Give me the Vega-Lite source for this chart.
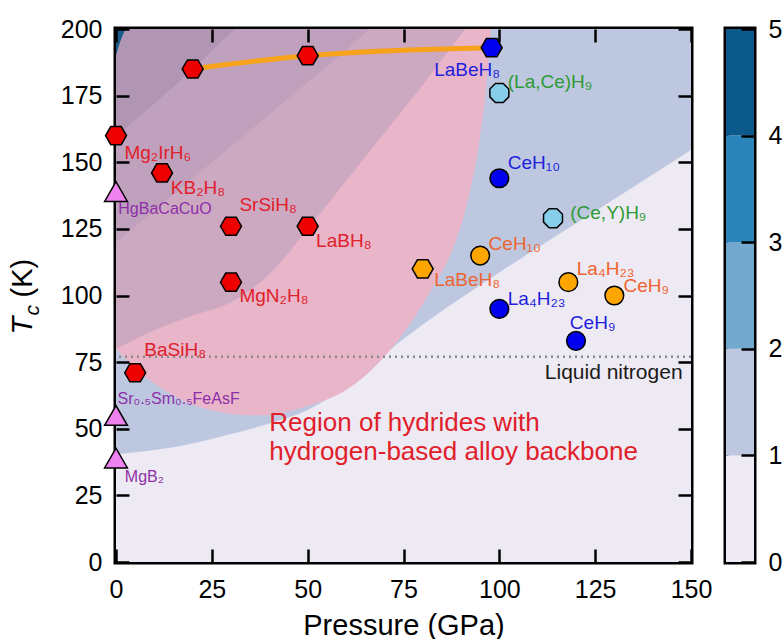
{
  "$schema": "https://vega.github.io/schema/vega-lite/v6.json",
  "padding": {"left": 5, "top": 14, "right": 0, "bottom": 0},
  "background": "white",
  "config": {
    "font": "Liberation Sans",
    "view": {"stroke": "black", "strokeWidth": 5, "fill": "#EEEAF3"},
    "axis": {
      "labelFont": "Liberation Sans", "labelFontSize": 25, "labelColor": "black",
      "titleFont": "Liberation Sans", "titleFontSize": 29, "titleFontWeight": "normal", "titleColor": "black",
      "ticks": true, "tickSize": 13, "tickWidth": 2.5, "tickColor": "black", "tickOpacity": 1,
      "domain": false, "grid": false,
      "labelPadding": 14, "labelFlush": false, "labelOverlap": false
    }
  },
  "datasets": {
    "bg": [
      {"b": "base", "P": 0, "T": 0}, {"b": "base", "P": 150, "T": 0},
      {"b": "blue", "P": 0, "T": 40.5}, {"b": "blue", "P": 10, "T": 42}, {"b": "blue", "P": 20, "T": 44.5}, {"b": "blue", "P": 30, "T": 48}, {"b": "blue", "P": 40, "T": 52}, {"b": "blue", "P": 50, "T": 57}, {"b": "blue", "P": 60, "T": 66}, {"b": "blue", "P": 70, "T": 78}, {"b": "blue", "P": 80, "T": 89}, {"b": "blue", "P": 100, "T": 108.6}, {"b": "blue", "P": 125, "T": 131.6}, {"b": "blue", "P": 150, "T": 154.6},
      {"b": "pink", "P": 0, "T": 80}, {"b": "pink", "P": 5, "T": 72.5}, {"b": "pink", "P": 10, "T": 67}, {"b": "pink", "P": 15, "T": 62.5}, {"b": "pink", "P": 20, "T": 59}, {"b": "pink", "P": 25, "T": 57}, {"b": "pink", "P": 30, "T": 55.5}, {"b": "pink", "P": 35, "T": 55}, {"b": "pink", "P": 40, "T": 55.3}, {"b": "pink", "P": 50, "T": 58.5}, {"b": "pink", "P": 60, "T": 64.5}, {"b": "pink", "P": 70, "T": 77}, {"b": "pink", "P": 77, "T": 90}, {"b": "pink", "P": 83, "T": 104}, {"b": "pink", "P": 88, "T": 118}, {"b": "pink", "P": 92, "T": 137}, {"b": "pink", "P": 95, "T": 160}, {"b": "pink", "P": 97, "T": 185}, {"b": "pink", "P": 97.8, "T": 200},
      {"b": "m1", "P": 0, "T": 80}, {"b": "m1", "P": 10, "T": 87}, {"b": "m1", "P": 20, "T": 92.5}, {"b": "m1", "P": 30, "T": 97.5}, {"b": "m1", "P": 40, "T": 108}, {"b": "m1", "P": 50, "T": 125}, {"b": "m1", "P": 60, "T": 143}, {"b": "m1", "P": 70, "T": 161}, {"b": "m1", "P": 80, "T": 179}, {"b": "m1", "P": 91, "T": 200},
      {"b": "m2", "P": 0, "T": 120}, {"b": "m2", "P": 10, "T": 132}, {"b": "m2", "P": 20, "T": 144}, {"b": "m2", "P": 30, "T": 156}, {"b": "m2", "P": 40, "T": 168}, {"b": "m2", "P": 50, "T": 180}, {"b": "m2", "P": 60, "T": 192}, {"b": "m2", "P": 66, "T": 200},
      {"b": "m3", "P": 0, "T": 160}, {"b": "m3", "P": 10, "T": 172}, {"b": "m3", "P": 20, "T": 185}, {"b": "m3", "P": 28, "T": 196}, {"b": "m3", "P": 31, "T": 200},
      {"b": "corner", "P": 0, "T": 190}, {"b": "corner", "P": 0.8, "T": 194}, {"b": "corner", "P": 1.7, "T": 197.5}, {"b": "corner", "P": 2.6, "T": 200}
    ],
    "pts": [
      {"m": "hex", "s": "red", "P": 0, "T": 160}, {"m": "hex", "s": "red", "P": 12, "T": 146}, {"m": "hex", "s": "red", "P": 30, "T": 126}, {"m": "hex", "s": "red", "P": 50, "T": 126}, {"m": "hex", "s": "red", "P": 30, "T": 105}, {"m": "hex", "s": "red", "P": 5, "T": 71}, {"m": "hex", "s": "red", "P": 20, "T": 185}, {"m": "hex", "s": "red", "P": 50, "T": 190},
      {"m": "hex", "s": "blue", "P": 98, "T": 193}, {"m": "hex", "s": "orange", "P": 80, "T": 110},
      {"m": "circle", "s": "blue", "P": 100, "T": 144}, {"m": "circle", "s": "blue", "P": 100, "T": 95}, {"m": "circle", "s": "blue", "P": 120, "T": 83},
      {"m": "circle", "s": "orange", "P": 95, "T": 115}, {"m": "circle", "s": "orange", "P": 118, "T": 105}, {"m": "circle", "s": "orange", "P": 130, "T": 100},
      {"m": "oct", "s": "lightblue", "P": 100, "T": 176}, {"m": "oct", "s": "lightblue", "P": 114, "T": 129},
      {"m": "tri", "s": "violet", "P": 0, "T": 139}, {"m": "tri", "s": "violet", "P": 0, "T": 55}, {"m": "tri", "s": "violet", "P": 0, "T": 39}
    ],
    "line": [{"P": 20, "T": 185}, {"P": 50, "T": 190}, {"P": 98, "T": 193}],
    "labels": [
      {"text": "Mg₂IrH₆", "P": 2.2, "T": 151.3, "g": "red"},
      {"text": "KB₂H₈", "P": 14.3, "T": 138.2, "g": "red"},
      {"text": "SrSiH₈", "P": 32.2, "T": 131.6, "g": "red"},
      {"text": "LaBH₈", "P": 52.2, "T": 118.2, "g": "red"},
      {"text": "MgN₂H₈", "P": 32.2, "T": 97.6, "g": "red"},
      {"text": "BaSiH₈", "P": 7.4, "T": 77.3, "g": "red"},
      {"text": "HgBaCaCuO", "P": 0.6, "T": 130.7, "g": "purple"},
      {"text": "Sr₀.₅Sm₀.₅FeAsF", "P": 0.4, "T": 59.4, "g": "purple"},
      {"text": "MgB₂", "P": 2.3, "T": 30, "g": "purple"},
      {"text": "LaBeH₈", "P": 83, "T": 182.4, "g": "blue"},
      {"text": "CeH₁₀", "P": 102.2, "T": 147.6, "g": "blue"},
      {"text": "La₄H₂₃", "P": 102.2, "T": 96.5, "g": "blue"},
      {"text": "CeH₉", "P": 118.4, "T": 87.3, "g": "blue"},
      {"text": "(La,Ce)H₉", "P": 102.2, "T": 177.9, "g": "green"},
      {"text": "(Ce,Y)H₉", "P": 118.5, "T": 128.8, "g": "green"},
      {"text": "CeH₁₀", "P": 97.2, "T": 117, "g": "orange"},
      {"text": "LaBeH₈", "P": 83, "T": 103.6, "g": "orange"},
      {"text": "La₄H₂₃", "P": 120.2, "T": 107.8, "g": "orange"},
      {"text": "CeH₉", "P": 132.4, "T": 101.3, "g": "orange"}
    ],
    "cbar": [
      {"band": "a", "lo": 0, "hi": 1}, {"band": "b", "lo": 1, "hi": 2}, {"band": "c", "lo": 2, "hi": 3}, {"band": "d", "lo": 3, "hi": 4}, {"band": "e", "lo": 4, "hi": 5}
    ]
  },
  "resolve": {"scale": {"color": "independent", "fill": "independent"}},
  "spacing": 8,
  "hconcat": [
    {
      "width": 575,
      "height": 533,
      "resolve": {"axis": {"x": "independent", "y": "independent"}},
      "layer": [
        {
          "data": {"name": "bg"},
          "transform": [{"filter": "datum.b === 'base'"}],
          "mark": {"type": "area", "orient": "vertical", "color": "#EEEAF3"},
          "encoding": {
            "x": {"field": "P", "type": "quantitative", "scale": {"domain": [0, 150], "nice": false, "zero": false},
                  "axis": {"orient": "bottom", "zindex": 1, "offset": -13, "ticks": true, "tickSize": 13, "domain": false, "values": [0, 25, 50, 75, 100, 125, 150], "title": "Pressure (GPa)", "labelPadding": 15, "titlePadding": 9}},
            "y": {"field": "T", "type": "quantitative", "scale": {"domain": [0, 200], "nice": false, "zero": false},
                  "axis": {"orient": "left", "zindex": 1, "offset": -13, "ticks": true, "tickSize": 13, "domain": false, "values": [0, 25, 50, 75, 100, 125, 150, 175, 200], "labelPadding": 14, "title": "(K)", "titleAngle": 270, "titleAlign": "left", "titleBaseline": "alphabetic", "titleX": -98, "titleY": 268}},
            "y2": {"datum": 200}
          }
        },
        {
          "data": {"name": "bg"},
          "transform": [{"filter": "datum.b === 'blue'"}],
          "mark": {"type": "area", "orient": "vertical", "interpolate": "monotone", "color": "#BDC8E0"},
          "encoding": {
            "x": {"field": "P", "type": "quantitative", "scale": {"domain": [0, 150], "nice": false, "zero": false},
                  "axis": {"orient": "top", "zindex": 1, "offset": -13, "ticks": true, "tickSize": 13, "domain": false, "values": [0, 25, 50, 75, 100, 125, 150], "labels": false, "title": "T", "titleFontStyle": "italic", "titleAngle": 270, "titleAlign": "left", "titleBaseline": "alphabetic", "titleX": -85, "titleY": 292}},
            "y": {"field": "T", "type": "quantitative", "scale": {"domain": [0, 200], "nice": false, "zero": false},
                  "axis": {"orient": "right", "zindex": 1, "offset": -13, "ticks": true, "tickSize": 13, "domain": false, "values": [0, 25, 50, 75, 100, 125, 150, 175, 200], "labels": false, "title": "c", "titleFontStyle": "italic", "titleFontSize": 21, "titleAngle": 270, "titleAlign": "left", "titleBaseline": "alphabetic", "titleX": -640, "titleY": 286}},
            "y2": {"datum": 200}
          }
        },
        {
          "data": {"name": "bg"},
          "transform": [{"filter": "datum.b === 'pink'"}],
          "mark": {"type": "area", "orient": "vertical", "interpolate": "monotone", "color": "#E8B5C9"},
          "encoding": {
            "x": {"field": "P", "type": "quantitative", "axis": null},
            "y": {"field": "T", "type": "quantitative", "axis": null},
            "y2": {"datum": 200}
          }
        },
        {
          "data": {"name": "bg"},
          "transform": [{"filter": "datum.b === 'm1'"}],
          "mark": {"type": "area", "orient": "vertical", "interpolate": "monotone", "color": "#CDA8C1"},
          "encoding": {
            "x": {"field": "P", "type": "quantitative", "axis": null},
            "y": {"field": "T", "type": "quantitative", "axis": null},
            "y2": {"datum": 200}
          }
        },
        {
          "data": {"name": "bg"},
          "transform": [{"filter": "datum.b === 'm2'"}],
          "mark": {"type": "area", "orient": "vertical", "interpolate": "monotone", "color": "#BFA0BD"},
          "encoding": {
            "x": {"field": "P", "type": "quantitative", "axis": null},
            "y": {"field": "T", "type": "quantitative", "axis": null},
            "y2": {"datum": 200}
          }
        },
        {
          "data": {"name": "bg"},
          "transform": [{"filter": "datum.b === 'm3'"}],
          "mark": {"type": "area", "orient": "vertical", "interpolate": "monotone", "color": "#B196B4"},
          "encoding": {
            "x": {"field": "P", "type": "quantitative", "axis": null},
            "y": {"field": "T", "type": "quantitative", "axis": null},
            "y2": {"datum": 200}
          }
        },
        {
          "data": {"name": "bg"},
          "transform": [{"filter": "datum.b === 'corner'"}],
          "mark": {"type": "area", "orient": "vertical", "interpolate": "monotone", "color": "#1A5A88"},
          "encoding": {
            "x": {"field": "P", "type": "quantitative", "axis": null},
            "y": {"field": "T", "type": "quantitative", "axis": null},
            "y2": {"datum": 200}
          }
        },
        {
          "data": {"values": [{"T": 77}]},
          "mark": {"type": "rule", "color": "#8A8A8A", "strokeWidth": 2.5, "strokeDash": [2, 4]},
          "encoding": {"y": {"field": "T", "type": "quantitative", "axis": null}}
        },
        {
          "data": {"name": "line"},
          "mark": {"type": "line", "color": "#F7A21B", "strokeWidth": 5, "interpolate": "monotone"},
          "encoding": {
            "x": {"field": "P", "type": "quantitative", "axis": null},
            "y": {"field": "T", "type": "quantitative", "axis": null}
          }
        },
        {
          "data": {"name": "pts"},
          "transform": [{"filter": "datum.m === 'hex'"}],
          "mark": {"type": "point", "filled": true, "opacity": 1, "stroke": "black", "strokeWidth": 1.5, "size": 440,
                   "shape": "M-1,0L-0.5,-0.866L0.5,-0.866L1,0L0.5,0.866L-0.5,0.866Z"},
          "encoding": {
            "x": {"field": "P", "type": "quantitative", "axis": null},
            "y": {"field": "T", "type": "quantitative", "axis": null},
            "fill": {"field": "s", "type": "nominal", "legend": null, "scale": {"domain": ["red", "blue", "orange", "lightblue", "violet"], "range": ["#EE0000", "#0000EE", "#FFA500", "#87CEEB", "#EE82EE"]}}
          }
        },
        {
          "data": {"name": "pts"},
          "transform": [{"filter": "datum.m === 'circle'"}],
          "mark": {"type": "point", "filled": true, "opacity": 1, "stroke": "black", "strokeWidth": 1.5, "size": 350, "shape": "circle"},
          "encoding": {
            "x": {"field": "P", "type": "quantitative", "axis": null},
            "y": {"field": "T", "type": "quantitative", "axis": null},
            "fill": {"field": "s", "type": "nominal", "legend": null, "scale": {"domain": ["red", "blue", "orange", "lightblue", "violet"], "range": ["#EE0000", "#0000EE", "#FFA500", "#87CEEB", "#EE82EE"]}}
          }
        },
        {
          "data": {"name": "pts"},
          "transform": [{"filter": "datum.m === 'oct'"}],
          "mark": {"type": "point", "filled": true, "opacity": 1, "stroke": "black", "strokeWidth": 1.5, "size": 420,
                   "shape": "M0.383,-0.924L0.924,-0.383L0.924,0.383L0.383,0.924L-0.383,0.924L-0.924,0.383L-0.924,-0.383L-0.383,-0.924Z"},
          "encoding": {
            "x": {"field": "P", "type": "quantitative", "axis": null},
            "y": {"field": "T", "type": "quantitative", "axis": null},
            "fill": {"field": "s", "type": "nominal", "legend": null, "scale": {"domain": ["red", "blue", "orange", "lightblue", "violet"], "range": ["#EE0000", "#0000EE", "#FFA500", "#87CEEB", "#EE82EE"]}}
          }
        },
        {
          "data": {"name": "pts"},
          "transform": [{"filter": "datum.m === 'tri'"}],
          "mark": {"type": "point", "filled": true, "opacity": 1, "stroke": "black", "strokeWidth": 1.5, "size": 520, "shape": "triangle-up"},
          "encoding": {
            "x": {"field": "P", "type": "quantitative", "axis": null},
            "y": {"field": "T", "type": "quantitative", "axis": null},
            "fill": {"field": "s", "type": "nominal", "legend": null, "scale": {"domain": ["red", "blue", "orange", "lightblue", "violet"], "range": ["#EE0000", "#0000EE", "#FFA500", "#87CEEB", "#EE82EE"]}}
          }
        },
        {
          "data": {"name": "labels"},
          "transform": [{"filter": "datum.g !== 'purple'"}],
          "mark": {"type": "text", "align": "left", "baseline": "alphabetic", "fontSize": 19},
          "encoding": {
            "x": {"field": "P", "type": "quantitative", "axis": null},
            "y": {"field": "T", "type": "quantitative", "axis": null},
            "text": {"field": "text"},
            "color": {"field": "g", "type": "nominal", "legend": null, "scale": {"domain": ["red", "purple", "blue", "green", "orange"], "range": ["#E0202A", "#8E2FA8", "#1F1FDD", "#2E9A35", "#EE6430"]}}
          }
        },
        {
          "data": {"name": "labels"},
          "transform": [{"filter": "datum.g === 'purple'"}],
          "mark": {"type": "text", "align": "left", "baseline": "alphabetic", "fontSize": 16},
          "encoding": {
            "x": {"field": "P", "type": "quantitative", "axis": null},
            "y": {"field": "T", "type": "quantitative", "axis": null},
            "text": {"field": "text"},
            "color": {"field": "g", "type": "nominal", "legend": null, "scale": {"domain": ["red", "purple", "blue", "green", "orange"], "range": ["#E0202A", "#8E2FA8", "#1F1FDD", "#2E9A35", "#EE6430"]}}
          }
        },
        {
          "data": {"values": [{"text": "Liquid nitrogen", "P": 147.8, "T": 68.5}]},
          "mark": {"type": "text", "align": "right", "baseline": "alphabetic", "fontSize": 21, "color": "#1a1a1a"},
          "encoding": {
            "x": {"field": "P", "type": "quantitative", "axis": null},
            "y": {"field": "T", "type": "quantitative", "axis": null},
            "text": {"field": "text"}
          }
        },
        {
          "data": {"values": [{"text": "Region of hydrides with\nhydrogen-based alloy backbone", "P": 40, "T": 49.2}]},
          "mark": {"type": "text", "align": "left", "baseline": "alphabetic", "fontSize": 26, "lineBreak": "\n", "lineHeight": 29, "color": "#E0202A"},
          "encoding": {
            "x": {"field": "P", "type": "quantitative", "axis": null},
            "y": {"field": "T", "type": "quantitative", "axis": null},
            "text": {"field": "text"}
          }
        }
      ]
    },
    {
      "width": 28,
      "height": 533,
      "data": {"name": "cbar"},
      "mark": {"type": "rect"},
      "encoding": {
        "y": {"field": "lo", "type": "quantitative", "scale": {"domain": [0, 5], "nice": false, "zero": false},
              "axis": {"orient": "right", "zindex": 1, "offset": -13, "ticks": true, "tickSize": 13, "domain": false, "values": [0, 1, 2, 3, 4, 5], "labelPadding": 14, "title": null}},
        "y2": {"field": "hi"},
        "color": {"field": "band", "type": "nominal", "legend": null, "scale": {"domain": ["a", "b", "c", "d", "e"], "range": ["#EEEBF4", "#BDC8E0", "#74A9CF", "#2B85BB", "#0B5A8B"]}}
      }
    }
  ]
}
